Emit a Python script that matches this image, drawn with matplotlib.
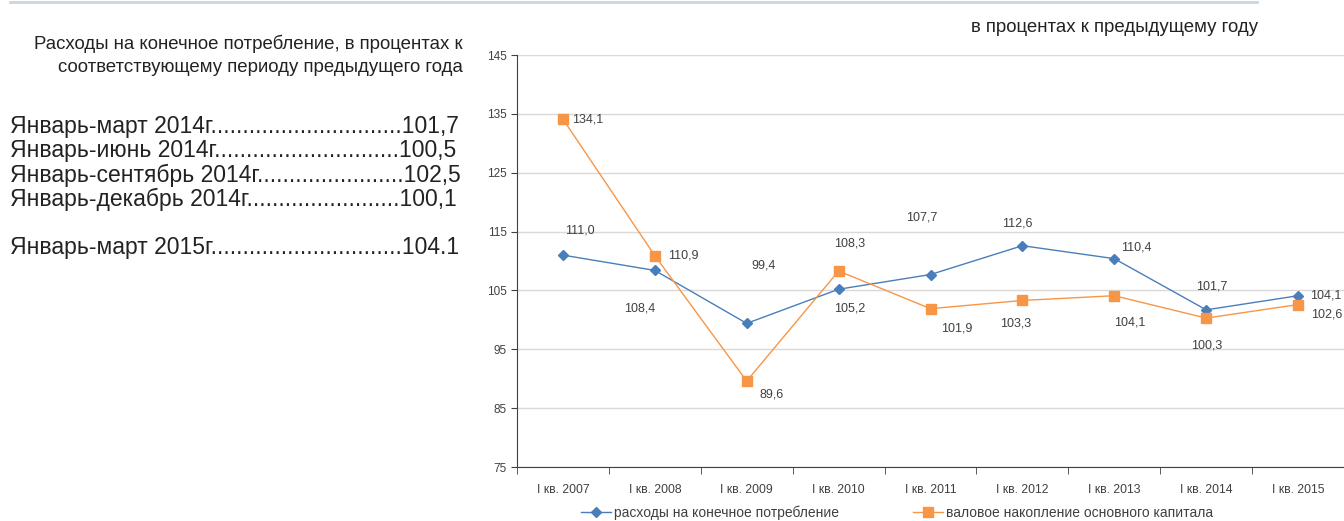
import matplotlib.pyplot as plt
from matplotlib.lines import Line2D

plt.rcParams["font.family"] = ["Liberation Sans", "DejaVu Sans"]

# data
quarters = ["I кв. 2007", "I кв. 2008", "I кв. 2009", "I кв. 2010", "I кв. 2011",
            "I кв. 2012", "I кв. 2013", "I кв. 2014", "I кв. 2015"]
consumption = [111.0, 108.4, 99.4, 105.2, 107.7, 112.6, 110.4, 101.7, 104.1]
capital = [134.1, 110.9, 89.6, 108.3, 101.9, 103.3, 104.1, 100.3, 102.6]
side_periods = ["Январь-март 2014г", "Январь-июнь 2014г", "Январь-сентябрь 2014г",
                "Январь-декабрь 2014г", "Январь-март 2015г"]
side_values = ["101,7", "100,5", "102,5", "100,1", "104.1"]

# label offsets in pixels (dx, dy)
cons_off = [(17, 25), (-15, -38), (17, 58), (11, -19), (-9, 57), (-5, 22), (22, 11), (6, 23), (28, 0)]
cap_off = [(25, 0), (28, 0), (25, -13), (11, 28), (26, -20), (-7, -23), (15, -27), (1, -27), (29, -10)]

blue = "#4A7EBB"
orange = "#F79646"
txt = "#404040"

fig = plt.figure(figsize=(13.44, 5.21), dpi=100)
ax = fig.add_axes([517 / 1344, 1 - 467 / 521, 827 / 1344, 412 / 521])

x = list(range(len(quarters)))
ax.plot(x, consumption, color=blue, lw=1, marker="D", ms=5, label="расходы на конечное потребление")
ax.plot(x, capital, color=orange, lw=1, marker="s", ms=6.5, label="валовое накопление основного капитала")

for i, v in enumerate(consumption):
    ax.annotate(f"{v:.1f}".replace(".", ","), (i, v), xytext=cons_off[i], textcoords="offset pixels",
                ha="center", va="center", fontsize=9, color=txt)
for i, v in enumerate(capital):
    ax.annotate(f"{v:.1f}".replace(".", ","), (i, v), xytext=cap_off[i], textcoords="offset pixels",
                ha="center", va="center", fontsize=9, color=txt)

ax.set_xlim(-0.5, len(quarters) - 0.5)
ax.set_ylim(75, 145)
ax.set_yticks(range(75, 146, 10))
ax.set_xticks(x)
ax.set_xticklabels(quarters, fontsize=8.7, color=txt)
ax.set_xticks([i + 0.5 for i in range(-1, len(quarters))], minor=True)
ax.tick_params(axis="x", which="major", length=0, pad=12)
ax.tick_params(axis="x", which="minor", length=5, color="#404040")
ax.tick_params(axis="y", length=4, labelsize=8.5, labelcolor=txt, color="#404040")
ax.grid(axis="y", color="#D9D9D9", lw=1)
ax.set_axisbelow(True)
for s in ["top", "right"]:
    ax.spines[s].set_visible(False)
ax.spines["left"].set_color("#404040")
ax.spines["bottom"].set_color("#404040")

handles = [Line2D([], [], color=blue, marker="D", ms=5, lw=1),
           Line2D([], [], color=orange, marker="s", ms=6.5, lw=1)]
fig.legend(handles, ["расходы на конечное потребление", "валовое накопление основного капитала"],
           loc="center", bbox_to_anchor=(897 / 1344, 1 - 513 / 521), ncol=2, frameon=False,
           fontsize=10, handlelength=2.2, columnspacing=5.3, handletextpad=0.2, labelcolor=txt)

# texts
fig.text(1258 / 1344, 1 - 28 / 521, "в процентах к предыдущему году", ha="right", va="center",
         fontsize=13.4, color="#222222")
fig.text(463 / 1344, 1 - 44 / 521, "Расходы на конечное потребление, в процентах к", ha="right",
         va="center", fontsize=13.4, color="#222222")
fig.text(463 / 1344, 1 - 67 / 521, "соответствующему периоду предыдущего года", ha="right",
         va="center", fontsize=13.4, color="#222222")

# left list: fill with dots up to the right edge
renderer = fig.canvas.get_renderer()
ys = [127, 151, 175, 199, 247]
for p, v, yy in zip(side_periods, side_values, ys):
    n = 5
    t = fig.text(10 / 1344, 1 - yy / 521, p + "." * n + v, ha="left", va="center",
                 fontsize=16.5, color="#222222")
    while t.get_window_extent(renderer).x1 < 455:
        n += 1
        t.set_text(p + "." * n + v)

fig.add_artist(Line2D([10 / 1344, 1257 / 1344], [1 - 2 / 521, 1 - 2 / 521], color="#C8D6E0", lw=2,
                      transform=fig.transFigure))

plt.savefig("out.png", dpi=100)
